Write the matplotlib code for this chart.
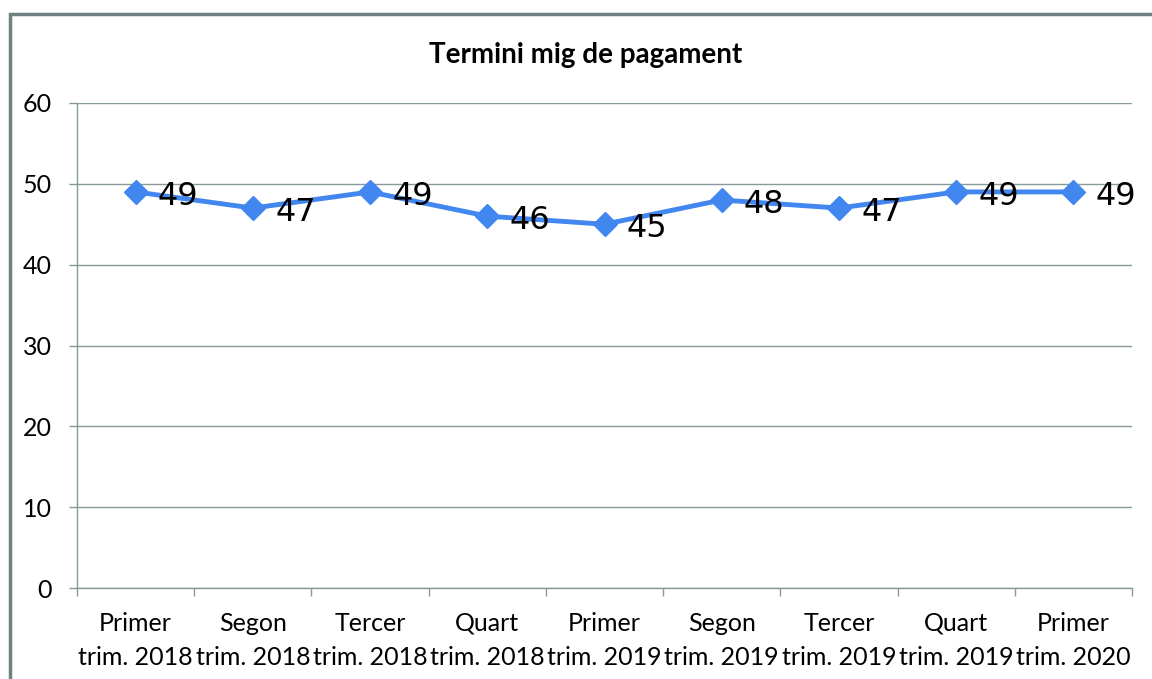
import matplotlib.pyplot as plt
from matplotlib.patches import Rectangle
import numpy as np

plt.rcParams['font.family'] = ['Lato', 'DejaVu Sans']

categories = ["Primer\ntrim. 2018", "Segon\ntrim. 2018", "Tercer\ntrim. 2018",
              "Quart\ntrim. 2018", "Primer\ntrim. 2019", "Segon\ntrim. 2019",
              "Tercer\ntrim. 2019", "Quart\ntrim. 2019", "Primer\ntrim. 2020"]
values = [49, 47, 49, 46, 45, 48, 47, 49, 49]
title = "Termini mig de pagament"

grey = '#889999'
blue = '#4287f0'

fig = plt.figure(figsize=(11.52, 6.79), dpi=100)
ax = fig.add_axes([77/1152, 1-588/679, (1132-77)/1152, (588-103)/679])

x = np.arange(len(categories))
ax.plot(x, values, color=blue, lw=3.5, marker='D', ms=12, zorder=3, clip_on=False)
for xi, v in zip(x, values):
    ax.annotate(str(v), (xi, v), xytext=(16, -3), textcoords='offset points',
                ha='left', va='center', fontsize=23, family='DejaVu Sans', color='black')

ax.set_xlim(-0.5, len(categories) - 0.5)
ax.set_ylim(0, 60)
ax.set_yticks(range(0, 61, 10))
ax.set_xticks(x)
ax.set_xticklabels(categories, fontsize=18, linespacing=1.6)
ax.set_xticks(np.arange(-0.5, len(categories)), minor=True)
ax.tick_params(axis='x', which='major', length=0, pad=17)
ax.tick_params(axis='x', which='minor', length=6, color=grey, width=1)
ax.tick_params(axis='y', length=6, color=grey, width=1, labelsize=18, pad=12)
ax.yaxis.grid(True, color=grey, lw=1)
ax.set_axisbelow(True)
for s in ['top', 'right']:
    ax.spines[s].set_visible(False)
for s in ['left', 'bottom']:
    ax.spines[s].set_color(grey)
    ax.spines[s].set_linewidth(1)

fig.text(586/1152, 1-55/679, title, ha='center', va='center', fontsize=20, fontweight='bold')

# chart border
fig.patches.append(Rectangle((10/1152, -0.1), 1.2, 1.1 - 14/679, transform=fig.transFigure,
                             fill=False, edgecolor='#6e8282', lw=2.5))

fig.savefig('out.png', dpi=100)
